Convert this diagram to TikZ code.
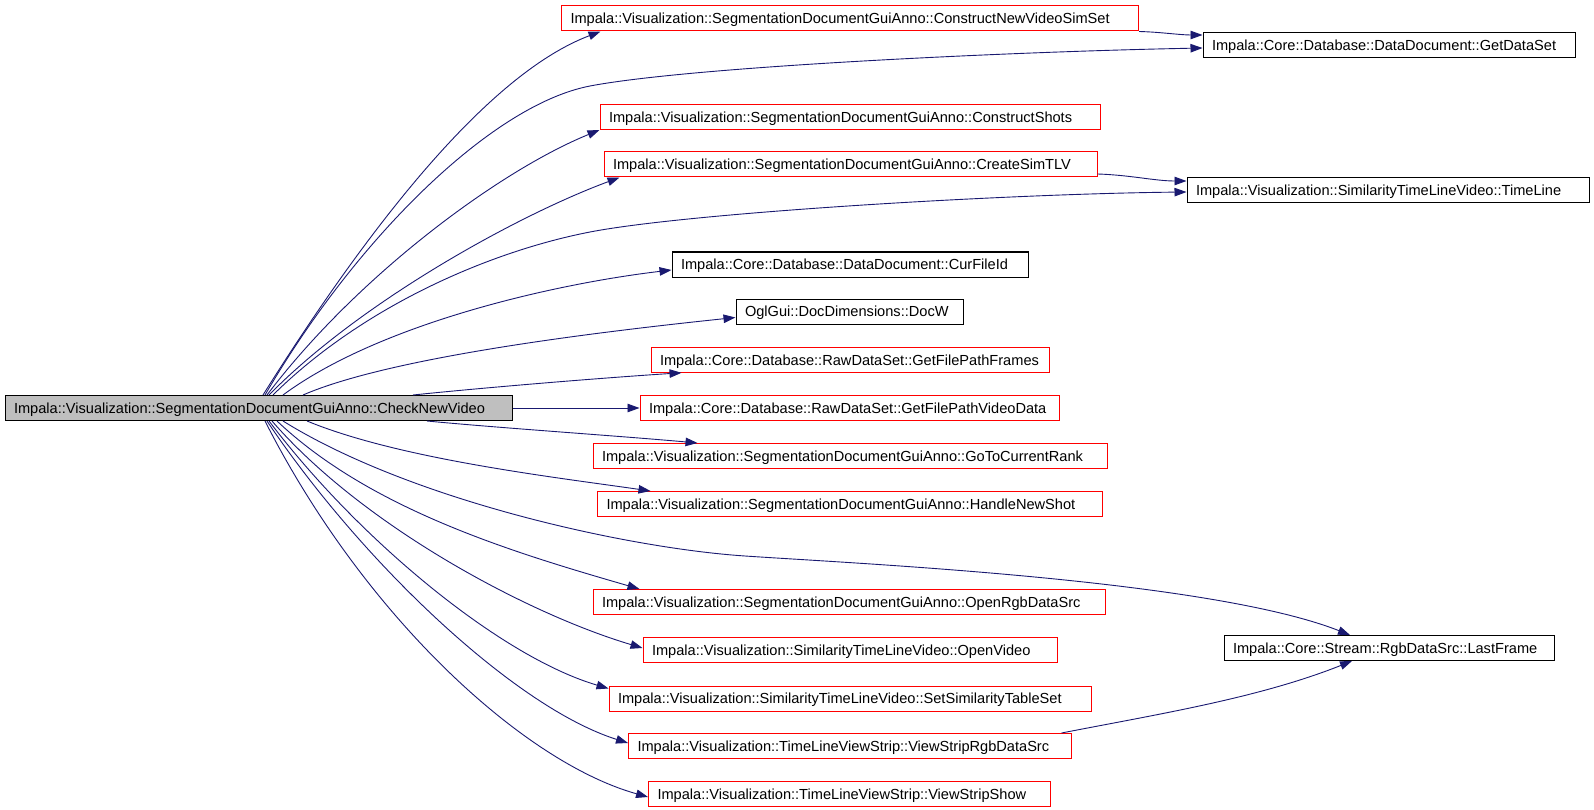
\documentclass[tikz,border=0pt]{standalone}
\usepackage{fontspec}
\setmainfont{Liberation Sans}
\usetikzlibrary{arrows.meta}
\definecolor{edgec}{HTML}{191970}
\definecolor{boxred}{HTML}{FF0000}
\definecolor{mainfill}{HTML}{BFBFBF}
\begin{document}
\begin{tikzpicture}[x=1pt,y=-1pt,
  fn/.style={draw, line width=1pt, minimum height=25pt, inner xsep=9pt, inner ysep=0pt,
    align=left, text height=10.6pt, text depth=0pt,
    font=\fontsize{14.6}{17}\selectfont, anchor=center},
  redbox/.style={fn, draw=boxred},
  blackbox/.style={fn, draw=black},
  mainbox/.style={fn, draw=black, fill=mainfill},
  call/.style={draw=edgec, line width=0.9pt, -{Triangle[length=12pt,width=8.5pt]}}]
\useasboundingbox (0,0) rectangle (1594,810);

\node[mainbox, text width=489pt] (main) at (258.5,408) {Impala::Visualization::SegmentationDocumentGuiAnno::CheckNewVideo};

\node[redbox, text width=559pt] (n1) at (850,18.5) {Impala::Visualization::SegmentationDocumentGuiAnno::ConstructNewVideoSimSet};
\node[blackbox, text width=354pt] (n2) at (1389,45) {Impala::Core::Database::DataDocument::GetDataSet};
\node[redbox, text width=482pt] (n3) at (850,117) {Impala::Visualization::SegmentationDocumentGuiAnno::ConstructShots};
\node[redbox, text width=475pt] (n4) at (850.5,164.5) {Impala::Visualization::SegmentationDocumentGuiAnno::CreateSimTLV};
\node[blackbox, text width=384pt] (n5) at (1388,190.5) {Impala::Visualization::SimilarityTimeLineVideo::TimeLine};
\node[blackbox, text width=338pt] (n6) at (850,264.5) {Impala::Core::Database::DataDocument::CurFileId};
\node[blackbox, text width=209pt] (n7) at (849.5,311.5) {OglGui::DocDimensions::DocW};
\node[redbox, text width=380pt] (n8) at (850,359.8) {Impala::Core::Database::RawDataSet::GetFilePathFrames};
\node[redbox, text width=401pt] (n9) at (849.5,408) {Impala::Core::Database::RawDataSet::GetFilePathVideoData};
\node[redbox, text width=496pt] (n10) at (850,456) {Impala::Visualization::SegmentationDocumentGuiAnno::GoToCurrentRank};
\node[redbox, text width=487pt] (n11) at (850,504) {Impala::Visualization::SegmentationDocumentGuiAnno::HandleNewShot};
\node[redbox, text width=494pt] (n12) at (849,602) {Impala::Visualization::SegmentationDocumentGuiAnno::OpenRgbDataSrc};
\node[blackbox, text width=312pt] (n13) at (1389,648) {Impala::Core::Stream::RgbDataSrc::LastFrame};
\node[redbox, text width=396pt] (n14) at (850,650) {Impala::Visualization::SimilarityTimeLineVideo::OpenVideo};
\node[redbox, text width=464pt] (n15) at (850,698.5) {Impala::Visualization::SimilarityTimeLineVideo::SetSimilarityTableSet};
\node[redbox, text width=425pt] (n16) at (850,746) {Impala::Visualization::TimeLineViewStrip::ViewStripRgbDataSrc};
\node[redbox, text width=384pt] (n17) at (849.5,794) {Impala::Visualization::TimeLineViewStrip::ViewStripShow};

% upper fan
\draw[call] ([xshift=4.5pt]main.north) .. controls (369,226) and (488,74) .. ([xshift=39.5pt]n1.south west);
\draw[call] ([xshift=6.5pt]main.north) .. controls (355,240) and (491,105) .. (590,86)
  .. controls (690,67) and (1000,52) .. ([yshift=-3pt]n2.west);
\draw[call] ([xshift=8.5pt]main.north) .. controls (357,276) and (499,171) .. (n3.south west);
\draw[call] ([xshift=10.5pt]main.north) .. controls (360,302) and (518,215) .. ([xshift=16pt]n4.south west);
\draw[call] ([xshift=14.5pt]main.north) .. controls (364,305) and (492,251) .. (590,232)
  .. controls (688,213) and (1000,194) .. ([yshift=-1.5pt]n5.west);
\draw[call] ([xshift=24.5pt]main.north) .. controls (379,324) and (553,284) .. ([yshift=-5.5pt]n6.west);
\draw[call] ([xshift=44.5pt]main.north) .. controls (393,356) and (607,331) .. ([yshift=-6pt]n7.west);
\draw[call] ([xshift=154.5pt]main.north) .. controls (480,388) and (600,378) .. ([xshift=31pt]n8.south west);
\draw[call] (main.east) -- (n9.west);
% lower fan
\draw[call] ([xshift=168.5pt]main.south) .. controls (500,428) and (620,436) .. ([xshift=105pt]n10.north west);
\draw[call] ([xshift=48.5pt]main.south) .. controls (399,459) and (553,477) .. ([xshift=53.5pt]n11.north west);
\draw[call] ([xshift=24.5pt]main.south) .. controls (410,500) and (626,548) .. (745,556)
  .. controls (864,564) and (1210,580) .. ([xshift=-39pt]n13.north);
\draw[call] ([xshift=18.5pt]main.south) .. controls (371,510) and (515,553) .. ([xshift=47pt]n12.north west);
\draw[call] ([xshift=13.5pt]main.south) .. controls (363,526) and (528,614) .. ([yshift=2pt]n14.west);
\draw[call] ([xshift=10.5pt]main.south) .. controls (359,540) and (501,657) .. ([yshift=-3pt]n15.north west);
\draw[call] ([xshift=8.5pt]main.south) .. controls (361,561) and (514,707) .. ([yshift=3pt]n16.west);
\draw[call] ([xshift=6.5pt]main.south) .. controls (364,616) and (523,762) .. ([yshift=-3pt]n17.west);
% secondary calls
\draw[call] (n1.south east) .. controls (1160,32) and (1180,35) .. ([yshift=10pt]n2.west);
\draw[call] ([yshift=-9.5pt]n4.east) .. controls (1130,175) and (1155,181) .. ([yshift=9.5pt]n5.west);
\draw[call] ([xshift=-10.5pt]n16.north east) .. controls (1159,714) and (1259,698) .. ([xshift=-37pt]n13.south);
\end{tikzpicture}
\end{document}
